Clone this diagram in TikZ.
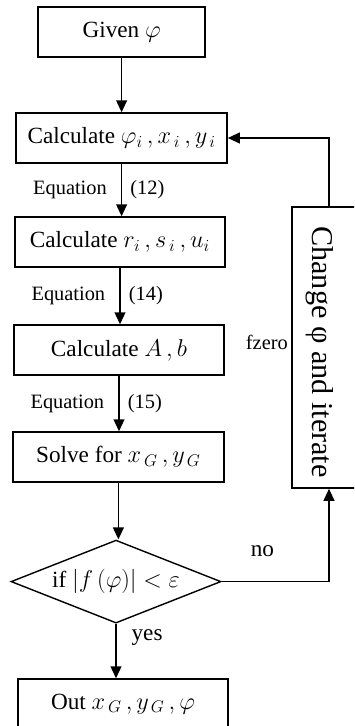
\documentclass[tikz,border=0pt]{standalone}
\usepackage{fontspec}
\setmainfont{Liberation Serif}
\usetikzlibrary{arrows.meta,shapes.geometric,positioning}

\begin{document}
\begin{tikzpicture}[
    every node/.style={font=\fontsize{16.5}{20}\selectfont},
    box/.style={draw, line width=1pt, minimum width=5.25cm, minimum height=1.25cm},
    decision/.style={draw, line width=1pt, diamond, aspect=2.5, inner sep=0pt, minimum width=5.25cm, minimum height=2.075cm},
    flow/.style={line width=1.2pt, -{Triangle[length=0.3cm,width=0.27cm]}},
    eqlabel/.style={font=\fontsize{14.5}{17}\selectfont, inner sep=0pt}]
    \useasboundingbox (0,0) rectangle (8.85,18.15);
    \clip (0,0) rectangle (8.85,18.15);
    % main column
    \node[box, minimum width=4.175cm] (given) at (3.04,17.35) {Given $\varphi$};
    \node[box, minimum width=5.275cm] (calcphi) at (3.04,14.70) {Calculate $\varphi_i\,,x_{\,i}\,,y_{\,i}$};
    \node[box] (calcrsu) at (3.00,12.10) {Calculate $r_i\,,s_{\,i}\,,u_i$};
    \node[box] (calcab) at (2.975,9.40) {Calculate $A\,,b$};
    \node[box, minimum width=5.275cm] (solve) at (2.96,6.725) {Solve for $x_{\,G}\,,y_{\,G}$};
    \node[decision] (check) at (2.90,3.61) {if $\Bigl|f\,(\varphi)\Bigr|<\varepsilon$};
    \node[box] (out) at (3.075,0.55) {Out $x_{\,G}\,,y_{\,G}\,,\varphi$};
    % loop box
    \node[box, minimum width=1.85cm, minimum height=7.025cm] (change) at (8.225,9.46) {};
    \node[font=\fontsize{21.5}{25}\selectfont, inner sep=0pt] (iter) at ([xshift=-0.22cm,yshift=-0.11cm]change.center) {\rotatebox{-90}{Change φ and iterate}};
    \node[eqlabel, left=0.08cm of change.west, yshift=0.14cm] (fz) {fzero};

    \draw[flow] (given.south) -- (given.south |- calcphi.north);
    \foreach \a/\b/\n in {calcphi/calcrsu/12, calcrsu/calcab/14, calcab/solve/15} {
        \draw[flow] (\a.south) -- (\a.south |- \b.north)
            node[eqlabel, midway, left=0.35cm] {Equation}
            node[eqlabel, midway, right=0.2cm] {(\n)};
    }
    \draw[flow] (solve.south) -- (solve.south |- check.north);
    \draw[flow] (check.south) -- (check.south |- out.north)
        node[pos=0.25, right=0.37cm, inner sep=0pt] {yes};
    \draw[flow] (check.east) -| (change.south)
        node[pos=0.19, above=0.6cm, inner sep=0pt] {no};
    \draw[flow] (change.north) |- (calcphi.east);
\end{tikzpicture}
\end{document}
